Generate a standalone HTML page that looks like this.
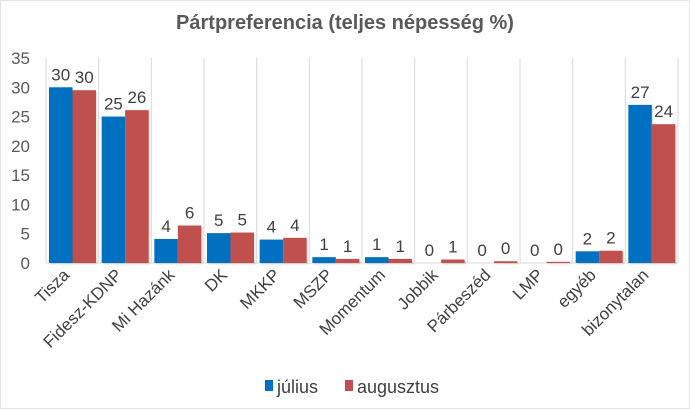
<!DOCTYPE html>
<html><head><meta charset="utf-8"><style>
body{margin:0;background:#fff;}
svg{display:block;font-family:"Liberation Sans",sans-serif;}
</style></head><body>
<svg width="690" height="409">
<rect x="0.5" y="0.5" width="689" height="408" fill="#fff" stroke="#e4e4e4"/>
<text x="345" y="29" text-anchor="middle" font-size="20" font-weight="bold" fill="#595959">Pártpreferencia (teljes népesség %)</text>
<g id="grid"></g><g id="bars"></g><g id="labels"></g>
<g>
<rect x="265" y="380" width="8" height="11" fill="#0070C0"/>
<text x="277" y="393" font-size="18" fill="#404040">július</text>
<rect x="345" y="380" width="8" height="11" fill="#C0504D"/>
<text x="357" y="393" font-size="18" fill="#404040">augusztus</text>
</g>
</svg>
<script>
const categories=["Tisza","Fidesz-KDNP","Mi Hazánk","DK","MKKP","MSZP","Momentum","Jobbik","Párbeszéd","LMP","egyéb","bizonytalan"];
const julius=[30,25,4.1,5.1,4,1,1,0,0,0,2,27];
const augusztus=[29.5,26.1,6.4,5.2,4.3,0.7,0.7,0.6,0.3,0.2,2.1,23.7];
const juliusLabels=["30","25","4","5","4","1","1","0","0","0","2","27"];
const augusztusLabels=["30","26","6","5","4","1","1","1","0","0","2","24"];
const yTicks=[0,5,10,15,20,25,30,35];
const NS="http://www.w3.org/2000/svg";
const X0=46,X1=678,Y0=263,Y1=58,YMAX=35;
const cw=(X1-X0)/categories.length;
const y=v=>Y0-(v/YMAX)*(Y0-Y1);
const cx=i=>X0+i*cw;
function mk(t,a,p){const e=document.createElementNS(NS,t);for(const k in a)e.setAttribute(k,a[k]);p.appendChild(e);return e;}
const grid=document.getElementById('grid'),bars=document.getElementById('bars'),labels=document.getElementById('labels');
for(let i=0;i<=categories.length;i++){
 const l=mk('line',{x1:cx(i),x2:cx(i),y1:Y1,y2:Y0,stroke:'#d9d9d9','stroke-width':1},grid);
 
 
}
const ax=mk('line',{x1:X0,x2:X1,y1:Y0,y2:Y0,stroke:'#d9d9d9'},grid);


yTicks.forEach(t=>{
 const e=mk('text',{x:30,y:y(t)+6,'text-anchor':'end','font-size':'17',fill:'#595959'},labels);
 e.textContent=t;
 
 
});
const bw=23.5;
categories.forEach((c,i)=>{
 const bx=cx(i)+3;
 [[julius,juliusLabels,'#0070C0',bx,'julius'],[augusztus,augusztusLabels,'#C0504D',bx+bw,'augusztus']].forEach(([vals,lbs,col,x,s])=>{
  const v=vals[i];
  const sh=mk('rect',{x:x+1.5,y:y(v)+1.5,width:bw,height:Math.max(0,Y0-y(v)),fill:'#000',opacity:0.1},bars);
  
  
  const r=mk('rect',{x:x,y:y(v),width:bw,height:Math.max(0,Y0-y(v)),fill:col},bars);
  
  
  const t=mk('text',{x:x+bw/2,y:y(v)-7,'text-anchor':'middle','font-size':'17',fill:'#404040'},labels);
  t.textContent=lbs[i];
  
  
 });
 const mx=cx(i)+cw/2-2;
 const t=mk('text',{x:mx,y:276,'text-anchor':'end','font-size':'17',fill:'#404040',transform:`rotate(-45 ${mx} 276)`},labels);
 t.textContent=c;
 
 
});
</script>
</body></html>
